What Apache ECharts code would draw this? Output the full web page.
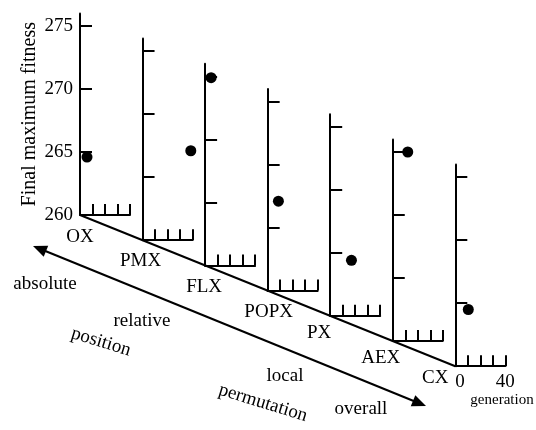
<!DOCTYPE html>
<html>
<head>
<meta charset="utf-8">
<style>
html,body{margin:0;padding:0;background:#fff;}
#chart{width:536px;height:430px;}
</style>
<script src="https://cdn.jsdelivr.net/npm/echarts@6/dist/echarts.min.js"></script>
</head>
<body>
<div id="chart"></div>
<script>
// ---- data ----
const operators = ['OX', 'PMX', 'FLX', 'POPX', 'PX', 'AEX', 'CX'];
const generation = [5.6, 38.6, 4.8, 8.6, 17, 12, 10.4];
const finalFitness = [264.6, 267.1, 274.9, 267.1, 264.4, 275.0, 264.5];
const yTicks = [260, 265, 270, 275];
const xTickLabels = [0, 40];
const yAxisTitle = 'Final maximum fitness';
const xAxisTitle = 'generation';
const arrowWordsTop = ['absolute', 'relative', 'local', 'overall'];
const arrowWordsSlant = ['position', 'permutation'];

// ---- layout ----
const FONT = '"Liberation Serif", "Times New Roman", serif';
const X0 = 80, Y0 = 215, DX = 62.55, DY = 25.2, W = 50, H = 201.6;
const labelOffsets = [[0,22],[-2,21],[-1,22],[1,21],[-11,17],[-12,17],[-20,12]];

const chart = echarts.init(document.getElementById('chart'), null, {renderer: 'canvas'});

const grids = [], xAxes = [], yAxes = [], series = [];
operators.forEach((op, i) => {
  const ox = X0 + i * DX, oy = Y0 + i * DY;
  grids.push({left: ox, top: oy - H, width: W, height: H, containLabel: false, outerBoundsMode: 'none'});
  const last = i === operators.length - 1;
  xAxes.push({
    type: 'value', gridIndex: i, min: 0, max: 40, interval: 10,
    axisLine: {show: true, onZero: false, lineStyle: {color: '#000', width: 2}},
    axisTick: {show: true, inside: true, length: 11, customValues: [10, 20, 30, 40], lineStyle: {color: '#000', width: 2}},
    axisLabel: {show: last, customValues: xTickLabels, color: '#000', fontFamily: FONT, fontSize: 19, margin: 6,
      alignMinLabel: 'left'},
    splitLine: {show: false}
  });
  yAxes.push({
    type: 'value', gridIndex: i, min: 260, max: 276, interval: 5,
    axisLine: {show: true, onZero: false, lineStyle: {color: '#000', width: 2}},
    axisTick: {show: true, inside: true, length: 12, customValues: [265, 270, 275], lineStyle: {color: '#000', width: 2}},
    axisLabel: {show: i === 0, customValues: yTicks, color: '#000', fontFamily: FONT, fontSize: 19, margin: 7},
    splitLine: {show: false},
    name: i === 0 ? yAxisTitle : '',
    nameLocation: 'middle', nameRotate: 90, nameGap: 40,
    nameTextStyle: {color: '#000', fontFamily: FONT, fontSize: 20}
  });
  series.push({
    type: 'scatter', xAxisIndex: i, yAxisIndex: i,
    data: [[generation[i], finalFitness[i]]],
    symbol: 'circle', symbolSize: 11,
    itemStyle: {color: '#000', opacity: 1}, silent: true, animation: false
  });
});

chart.setOption({
  backgroundColor: '#fff',
  animation: false,
  grid: grids, xAxis: xAxes, yAxis: yAxes, series: series
});

// ---- decorations derived from axis positions ----
const origins = operators.map((op, i) => chart.convertToPixel({gridIndex: i}, [0, 260]));
const els = [];
const txt = (text, x, y, opts) => Object.assign({
  type: 'text', x: x, y: y, silent: true,
  style: Object.assign({text: text, fill: '#000', font: '19px ' + FONT,
    textAlign: 'center', textVerticalAlign: 'middle', align: 'center', verticalAlign: 'middle'}, (opts && opts.style) || {})
}, (opts && opts.el) || {});

// baseline joining panel origins
els.push({type: 'line', silent: true, shape: {x1: origins[0][0], y1: origins[0][1], x2: origins[6][0], y2: origins[6][1]},
  style: {stroke: '#000', lineWidth: 2}});
// operator labels
operators.forEach((op, i) => {
  els.push(txt(op, origins[i][0] + labelOffsets[i][0], origins[i][1] + labelOffsets[i][1]));
});
// double-headed arrow
const A = [33, 246], B = [426, 406];
const len = Math.hypot(B[0] - A[0], B[1] - A[1]);
const ux = (B[0] - A[0]) / len, uy = (B[1] - A[1]) / len;
const headL = 14, headW = 6;
function head(tip, s) {
  const bx = tip[0] - s * ux * headL, by = tip[1] - s * uy * headL;
  return [[tip[0], tip[1]], [bx - uy * headW, by + ux * headW], [bx + uy * headW, by - ux * headW]];
}
els.push({type: 'line', silent: true,
  shape: {x1: A[0] + ux * 8, y1: A[1] + uy * 8, x2: B[0] - ux * 8, y2: B[1] - uy * 8},
  style: {stroke: '#000', lineWidth: 2}});
els.push({type: 'polygon', silent: true, shape: {points: head(A, -1)}, style: {fill: '#000'}});
els.push({type: 'polygon', silent: true, shape: {points: head(B, 1)}, style: {fill: '#000'}});
// words along the arrow
const topPos = [[45, 284], [142, 321], [285, 376], [361, 409]];
arrowWordsTop.forEach((w, i) => els.push(txt(w, topPos[i][0], topPos[i][1])));
const slantPos = [[101, 342], [263, 403]];
arrowWordsSlant.forEach((w, i) => els.push(txt(w, slantPos[i][0], slantPos[i][1], {el: {rotation: -17 * Math.PI / 180}})));
// x-axis title
els.push(txt(xAxisTitle, 502, 400, {style: {font: '15px ' + FONT}}));

chart.setOption({graphic: {elements: els}});
</script>
</body>
</html>
